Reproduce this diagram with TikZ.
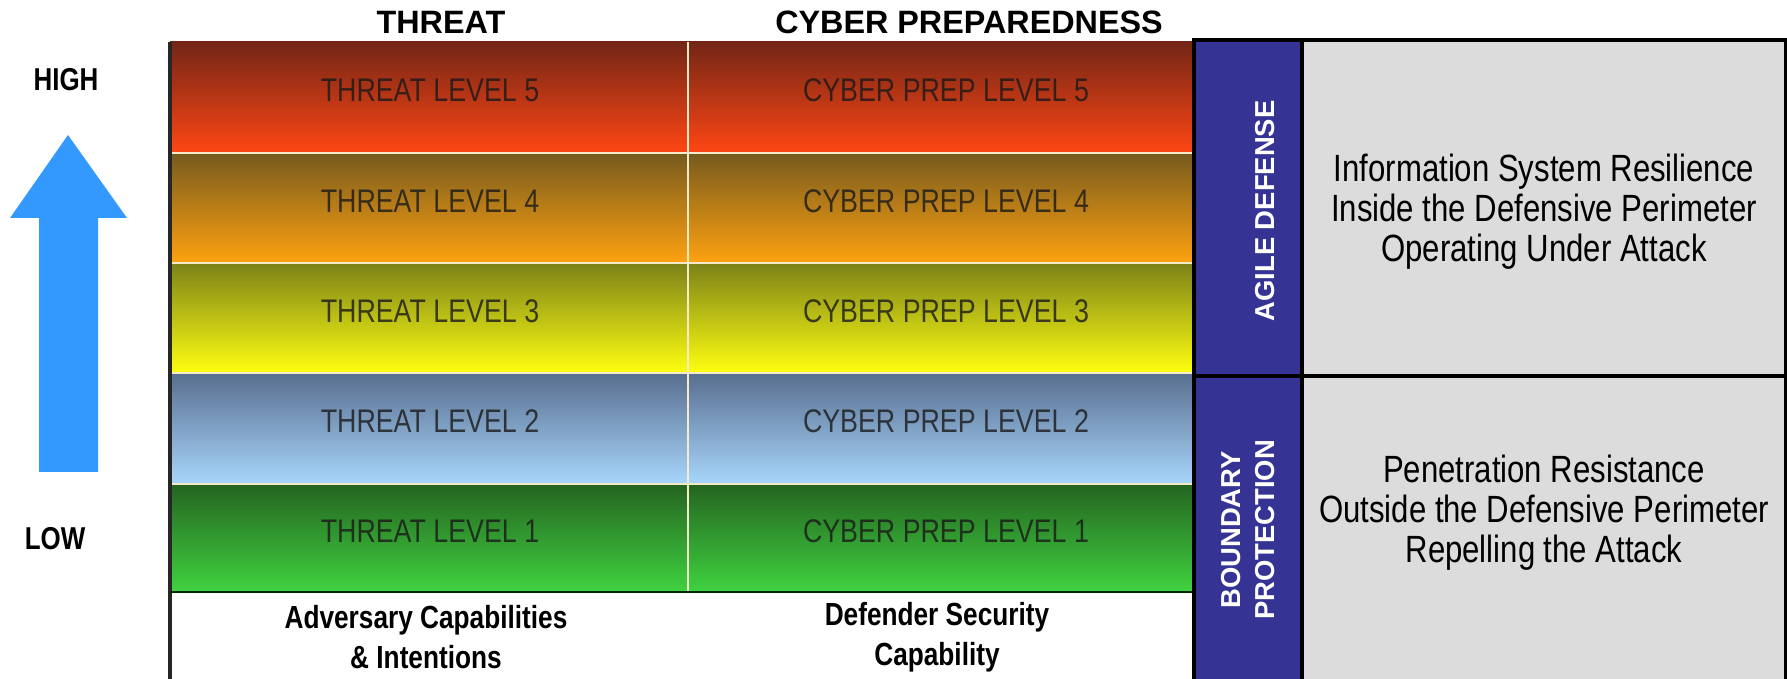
\documentclass[tikz,border=0pt]{standalone}
\usepackage{fontspec}
\setmainfont{Liberation Sans}
\newfontfamily\narrowfont{Liberation Sans}[FakeStretch=0.82]
\usepackage{tikz}
\usetikzlibrary{positioning}
\definecolor{arrowblue}{RGB}{51,153,255}
\definecolor{panelblue}{RGB}{53,51,148}
\definecolor{panelgrey}{RGB}{220,220,220}
\definecolor{sepcream}{RGB}{245,235,200}
% band gradients, top / middle / bottom
\definecolor{redtop}{RGB}{115,38,22}
\definecolor{redmid}{RGB}{228,60,18}
\definecolor{redbot}{RGB}{255,70,20}
\definecolor{orgtop}{RGB}{118,90,30}
\definecolor{orgmid}{RGB}{212,132,18}
\definecolor{orgbot}{RGB}{255,162,16}
\definecolor{yeltop}{RGB}{124,130,24}
\definecolor{yelmid}{RGB}{226,218,14}
\definecolor{yelbot}{RGB}{255,255,16}
\definecolor{blutop}{RGB}{88,110,142}
\definecolor{blumid}{RGB}{140,178,222}
\definecolor{blubot}{RGB}{168,214,252}
\definecolor{grntop}{RGB}{36,100,32}
\definecolor{grnmid}{RGB}{54,170,48}
\definecolor{grnbot}{RGB}{64,210,64}

\tikzset{
  levellabel/.style={font=\narrowfont\fontsize{9.3}{10}\selectfont, text=black!90, text opacity=0.8},
  colhead/.style={font=\bfseries\fontsize{9.2}{10}\selectfont},
  axislabel/.style={font=\narrowfont\bfseries\fontsize{9}{10}\selectfont},
  collabel/.style={font=\narrowfont\bfseries\fontsize{9.1}{11.4}\selectfont, align=center},
  sidelabel/.style={font=\bfseries\fontsize{7.8}{9.6}\selectfont, text=white, rotate=90, align=center},
  panelnote/.style={font=\narrowfont\fontsize{10.8}{11.4}\selectfont, align=center},
  sepline/.style={sepcream, line width=0.7pt}
}

\begin{document}
\begin{tikzpicture}
\useasboundingbox (0,0) rectangle (17.87,6.79);

% High / low arrow
\fill[arrowblue] (0.39,2.07) -- (0.98,2.07) -- (0.98,4.61) -- (1.27,4.61)
  -- (0.68,5.44) -- (0.10,4.61) -- (0.39,4.61) -- cycle;
\node[axislabel] (high) at (0.66,5.99) {HIGH};
\node[axislabel] (low) at (0.55,1.40) {LOW};

% Level bands
\foreach \lvl/\ylo/\yhi/\ctop/\cmid/\cbot in {
    5/5.26/6.37/redtop/redmid/redbot,
    4/4.16/5.26/orgtop/orgmid/orgbot,
    3/3.06/4.16/yeltop/yelmid/yelbot,
    2/1.95/3.06/blutop/blumid/blubot,
    1/0.87/1.95/grntop/grnmid/grnbot} {
  \shade[top color=\ctop, middle color=\cmid, bottom color=\cbot]
    (1.70,\ylo) rectangle (11.94,\yhi);
  \node[levellabel] (threat\lvl) at (4.30,{(\ylo+\yhi)/2+0.07}) {THREAT LEVEL \lvl};
  \node[levellabel] (prep\lvl) at (9.46,{(\ylo+\yhi)/2+0.07}) {CYBER PREP LEVEL \lvl};
}
\foreach \y in {1.95,3.06,4.16,5.26}
  \draw[sepline] (1.72,\y) -- (11.94,\y);
\draw[sepline] (6.88,0.88) -- (6.88,6.37);
\draw[black!85, line width=0.9pt] (1.70,0) -- (1.70,6.37);
\draw[black!60!green!40!black, line width=0.8pt] (1.70,0.87) -- (11.94,0.87);

% Column headings and captions
\node[colhead] (threathead) at (4.41,6.57) {THREAT};
\node[colhead] (prephead) at (9.69,6.57) {CYBER PREPAREDNESS};
\node[collabel] (adversary) at (4.26,0.42) {Adversary Capabilities\\\& Intentions};
\node[collabel] (defender) at (9.37,0.42) {Defender Security\\Capability};

% Defense panels
\fill[panelblue] (11.94,0) rectangle (13.02,6.39);
\fill[panelgrey] (13.02,0) rectangle (17.86,6.39);
\draw[black, line width=0.9pt] (11.94,0) -- (11.94,6.39) -- (17.86,6.39) -- (17.86,0);
\draw[black, line width=0.9pt] (13.02,0) -- (13.02,6.39);
\draw[black, line width=0.9pt] (11.94,3.03) -- (17.86,3.03);
\node[sidelabel] (agile) at (12.65,4.68) {AGILE DEFENSE};
\node[sidelabel] (boundary) at (12.48,1.49) {BOUNDARY\\PROTECTION};
\node[panelnote] (resilience) at (15.44,4.67)
  {Information System Resilience\\Inside the Defensive Perimeter\\Operating Under Attack};
\node[panelnote] (resistance) at (15.44,1.66)
  {Penetration Resistance\\Outside the Defensive Perimeter\\Repelling the Attack};

\end{tikzpicture}
\end{document}
